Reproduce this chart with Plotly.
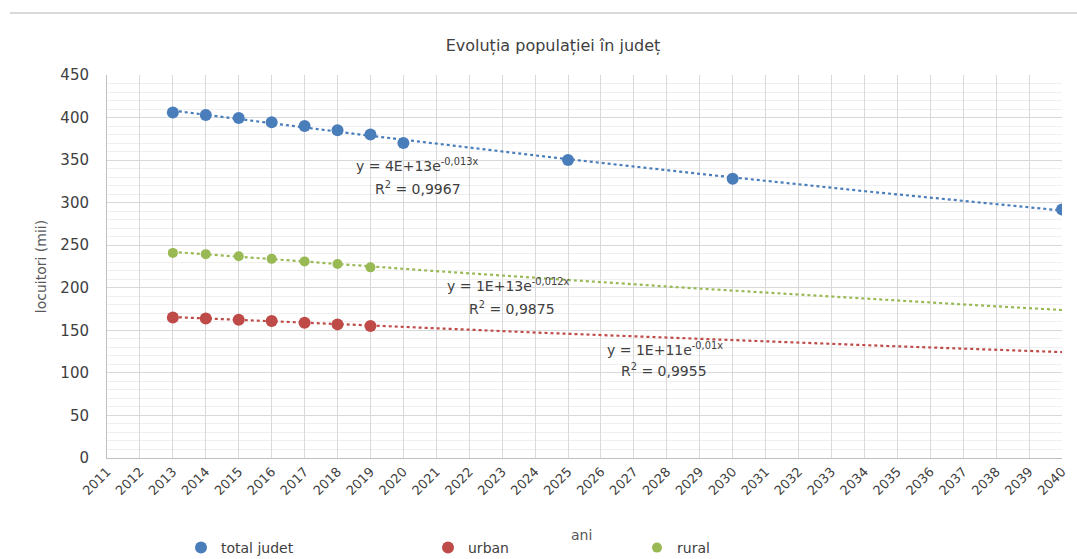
import numpy as np
import plotly.graph_objects as go

years_total = [2013, 2014, 2015, 2016, 2017, 2018, 2019, 2020, 2025, 2030, 2040]
total_judet = [406, 403, 399.5, 394.5, 390, 385, 380, 370, 350, 328, 292]
years_part = [2013, 2014, 2015, 2016, 2017, 2018, 2019]
urban = [165, 164, 162.5, 161, 159, 157, 155]
rural = [241, 239.5, 237, 234, 231, 228, 224]

tick_years = list(range(2011, 2041))
trend_x = np.linspace(2013, 2040, 200)

def exp_fit(x, y):
    b, a = np.polyfit(np.array(x, float), np.log(np.array(y, float)), 1)
    return np.exp(a + b * trend_x)

series = [
    ("total judet", years_total, total_judet, "#4a7ebb", 12, "legend"),
    ("urban", years_part, urban, "#be4b48", 12, "legend2"),
    ("rural", years_part, rural, "#98b954", 10, "legend3"),
]

fig = go.Figure()
for name, xs, ys, col, sz, lg in series:
    fig.add_trace(go.Scatter(x=trend_x, y=exp_fit(xs, ys), mode="lines",
                             line=dict(color=col, width=2.2, dash="dot"),
                             showlegend=False, hoverinfo="skip"))
for name, xs, ys, col, sz, lg in series:
    fig.add_trace(go.Scatter(x=xs, y=ys, mode="markers", name=name,
                             marker=dict(color=col, size=sz), legend=lg))

font_family = "DejaVu Sans, Verdana, sans-serif"
txt = "#595959"
W, H = 1077, 559
fig.update_layout(
    width=W, height=H,
    margin=dict(l=107, r=15, t=75, b=101),
    paper_bgcolor="white", plot_bgcolor="white",
    font=dict(family=font_family, color=txt, size=13),
    title=dict(text="Evoluția populației în județ", x=553 / W, xanchor="center",
               y=1 - 45 / H, yanchor="middle", font=dict(size=16, color="#404040")),
    xaxis=dict(range=[2011, 2040], tickmode="array", tickvals=tick_years,
               ticktext=[str(t) for t in tick_years], tickangle=-45,
               tickfont=dict(size=13, color="#404040"), automargin=False,
               showgrid=True, gridcolor="#d9d9d9", gridwidth=1,
               showline=True, linecolor="#bfbfbf", linewidth=1, mirror=False,
               zeroline=False, ticks=""),
    yaxis=dict(range=[0, 450], dtick=50, tickfont=dict(size=15, color="#404040"),
               automargin=False, ticklabelstandoff=14,
               showgrid=True, gridcolor="#d9d9d9", gridwidth=1,
               minor=dict(dtick=10, showgrid=True, gridcolor="#efefef", gridwidth=1),
               showline=True, linecolor="#bfbfbf", linewidth=1,
               zeroline=False, ticks="",
               title=dict(text="locuitori (mii)", font=dict(size=14, color=txt), standoff=10)),
    showlegend=True,
)
leg_common = dict(orientation="h", xref="container", yref="container",
                  yanchor="middle", y=1 - 548 / H, xanchor="left",
                  font=dict(size=14, color="#404040"), bgcolor="rgba(0,0,0,0)",
                  itemwidth=30)
fig.update_layout(
    legend=dict(x=181 / W, **leg_common),
    legend2=dict(x=428 / W, **leg_common),
    legend3=dict(x=637 / W, **leg_common),
)

# x-axis title "ani"
fig.add_annotation(text="ani", xref="paper", yref="paper",
                   x=(581 - 107) / 955, y=-(535 - 458) / 383,
                   xanchor="center", yanchor="middle", showarrow=False,
                   font=dict(size=14, color=txt))

# top border line of the chart frame
fig.add_shape(type="line", xref="paper", yref="paper",
              x0=-97 / 955, x1=1.02, y0=1 + 62 / 383, y1=1 + 62 / 383,
              line=dict(color="#d9d9d9", width=2))

eqs = [
    (2020.41, 344.3, "y = 4E+13e<sup>-0,013x</sup>"),
    (2020.45, 317.2, "R<sup>2</sup> = 0,9967"),
    (2023.18, 203.3, "y = 1E+13e<sup>-0,012x</sup>"),
    (2023.30, 176.2, "R<sup>2</sup> = 0,9875"),
    (2027.94, 128.1, "y = 1E+11e<sup>-0,01x</sup>"),
    (2027.90, 103.4, "R<sup>2</sup> = 0,9955"),
]
for x, y, t in eqs:
    fig.add_annotation(x=x, y=y, text=t, showarrow=False, xanchor="center",
                       yanchor="middle", align="center",
                       font=dict(size=14, color="#404040"))

fig.write_html("out.html", config={"displayModeBar": False},
               post_script="document.body.style.margin='0';")
